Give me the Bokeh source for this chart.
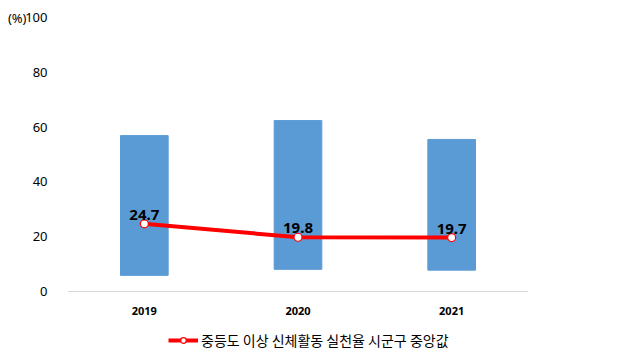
from bokeh.plotting import figure
from bokeh.models import (ColumnDataSource, FactorRange, Range1d, Legend, LegendItem, LabelSet,
                          FixedTicker, LinearAxis)
from bokeh.core.properties import value
from bokeh.embed import file_html
from bokeh.resources import INLINE

years = ["2019", "2020", "2021"]
min_vals = [5.9, 8.1, 7.8]
max_vals = [56.9, 62.4, 55.5]
median_vals = [24.7, 19.8, 19.7]
y_ticks = [0, 20, 40, 60, 80, 100]
unit_label = "(%)"
legend_label = "중등도 이상 신체활동 실천율 시군구 중앙값"

src = ColumnDataSource(dict(year=years, lo=min_vals, hi=max_vals, med=median_vals,
                            lab=[f"{v:.1f}" for v in median_vals]))

# frame extends below zero so the legend sits inside it; x axis is pinned at y=0
p = figure(width=621, height=362, x_range=FactorRange(*years, range_padding=0),
           y_range=Range1d(-25.9, 100), output_backend="svg", toolbar_location=None,
           min_border_left=67, min_border_right=93, min_border_top=17, min_border_bottom=0)
p.outline_line_color = None
p.xgrid.grid_line_color = None
p.ygrid.grid_line_color = None

p.vbar(x="year", bottom="lo", top="hi", width=0.31, color="#5B9BD5", source=src)
ln = p.line(x="year", y="med", line_color="#FF0000", line_width=4, source=src)
sc = p.scatter(x="year", y="med", size=8, fill_color="white", line_color="#FF0000",
               line_width=1.2, source=src)

labels = LabelSet(x="year", y="med", text="lab", source=src, text_align="center",
                  text_baseline="bottom", y_offset=4, text_font_size=value("15px"),
                  text_font_style=value("bold"), text_font=value("Noto Sans"),
                  text_color=value("black"))
p.add_layout(labels)

p.yaxis.ticker = FixedTicker(ticks=y_ticks)
p.yaxis.axis_line_color = None
p.yaxis.major_tick_line_color = None
p.yaxis.minor_tick_line_color = None
p.yaxis.major_label_standoff = 14
p.yaxis.major_label_text_font = "Noto Sans"
p.yaxis.major_label_text_font_size = "13px"
p.yaxis.major_label_text_color = "black"

unit_axis = LinearAxis(ticker=FixedTicker(ticks=[y_ticks[-1]]),
                       major_label_overrides={y_ticks[-1]: unit_label},
                       axis_line_color=None, major_tick_line_color=None,
                       minor_tick_line_color=None, major_label_standoff=-10,
                       major_label_text_font="Noto Sans", major_label_text_font_size="13px",
                       major_label_text_color="black")
p.add_layout(unit_axis, "left")

p.xaxis.fixed_location = 0
p.xaxis.axis_line_color = "#D9D9D9"
p.xaxis.axis_line_width = 1
p.xaxis.major_tick_line_color = None
p.xaxis.minor_tick_line_color = None
p.xaxis.major_label_standoff = 9
p.xaxis.major_label_text_font = "Noto Sans"
p.xaxis.major_label_text_font_size = "11px"
p.xaxis.major_label_text_font_style = "bold"
p.xaxis.major_label_text_color = "black"

legend = Legend(items=[LegendItem(label=legend_label, renderers=[ln, sc])],
                location=(101, 12), orientation="horizontal",
                label_text_font="Noto Sans CJK KR", label_text_font_size="14px",
                label_text_color="black", glyph_width=30, glyph_height=14,
                label_standoff=3, border_line_color=None, background_fill_alpha=0,
                padding=0, margin=0)
p.add_layout(legend, "center")

open("out.html", "w").write(file_html(p, INLINE))
